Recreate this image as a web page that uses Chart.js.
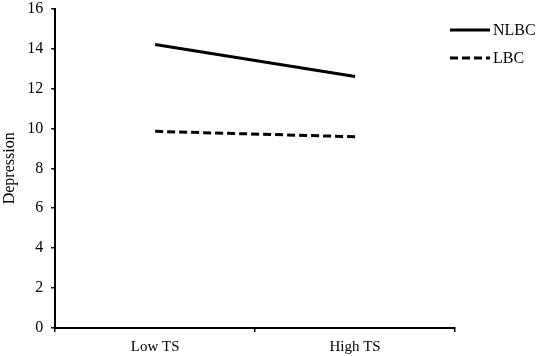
<!DOCTYPE html>
<html>
<head>
<meta charset="utf-8">
<script src="https://cdn.jsdelivr.net/npm/chart.js@4"></script>
<style>
  html, body { margin: 0; padding: 0; background: #fff; overflow: hidden; }
  #wrap { width: 536px; height: 367px; margin-top: -9px; }
</style>
</head>
<body>
<div id="wrap"><canvas id="chart"></canvas></div>
<script>
const categories = ["Low TS", "High TS"];
const nlbcValues = [14.2, 12.6];
const lbcValues = [9.85, 9.58];
const yTicks = { min: 0, max: 16, step: 2 };

const serif = "'Liberation Serif', 'Times New Roman', serif";

// legend drawn by hand so the dashed sample shows like the original
const lineLegend = {
  id: "lineLegend",
  afterDraw(chart) {
    const c = chart.ctx;
    const x0 = chart.chartArea.right - 5;
    c.save();
    c.font = "16px " + serif;
    c.fillStyle = "#000";
    c.textBaseline = "middle";
    chart.data.datasets.forEach((ds, i) => {
      const y = 39 + i * 28;
      c.beginPath();
      c.lineWidth = ds.borderWidth;
      c.strokeStyle = ds.borderColor;
      c.setLineDash(ds.borderDash || []);
      c.moveTo(x0, y);
      c.lineTo(x0 + 40, y);
      c.stroke();
      c.fillText(ds.label, x0 + 43, y + 1);
    });
    c.restore();
  }
};

const ctx = document.getElementById("chart").getContext("2d");
new Chart(ctx, {
  type: "line",
  data: {
    labels: categories,
    datasets: [
      {
        label: "NLBC",
        data: nlbcValues,
        borderColor: "#000",
        borderWidth: 3,
        pointRadius: 0,
        fill: false
      },
      {
        label: "LBC",
        data: lbcValues,
        borderColor: "#000",
        borderWidth: 3,
        borderDash: [8, 4],
        pointRadius: 0,
        fill: false
      }
    ]
  },
  options: {
    responsive: true,
    maintainAspectRatio: false,
    animation: false,
    layout: { padding: { top: -10, right: 81, bottom: -4, left: 0 } },
    scales: {
      x: {
        offset: true,
        grid: {
          offset: true,
          drawOnChartArea: false,
          drawTicks: true,
          tickLength: 4,
          color: "#000",
          lineWidth: 1.5
        },
        border: { color: "#000", width: 2 },
        ticks: {
          color: "#000",
          font: { family: serif, size: 15 },
          padding: 6
        }
      },
      y: {
        min: yTicks.min,
        max: yTicks.max,
        grid: {
          drawOnChartArea: false,
          drawTicks: true,
          tickLength: 4,
          color: "#000",
          lineWidth: 1.5
        },
        border: { color: "#000", width: 2 },
        ticks: {
          stepSize: yTicks.step,
          color: "#000",
          font: { family: serif, size: 16 },
          padding: 8
        },
        title: {
          display: true,
          text: "Depression",
          color: "#000",
          font: { family: serif, size: 16 },
          padding: { top: 0, bottom: 0 }
        }
      }
    },
    plugins: {
      legend: { display: false },
      tooltip: { enabled: false }
    }
  },
  plugins: [lineLegend]
});
</script>
</body>
</html>
